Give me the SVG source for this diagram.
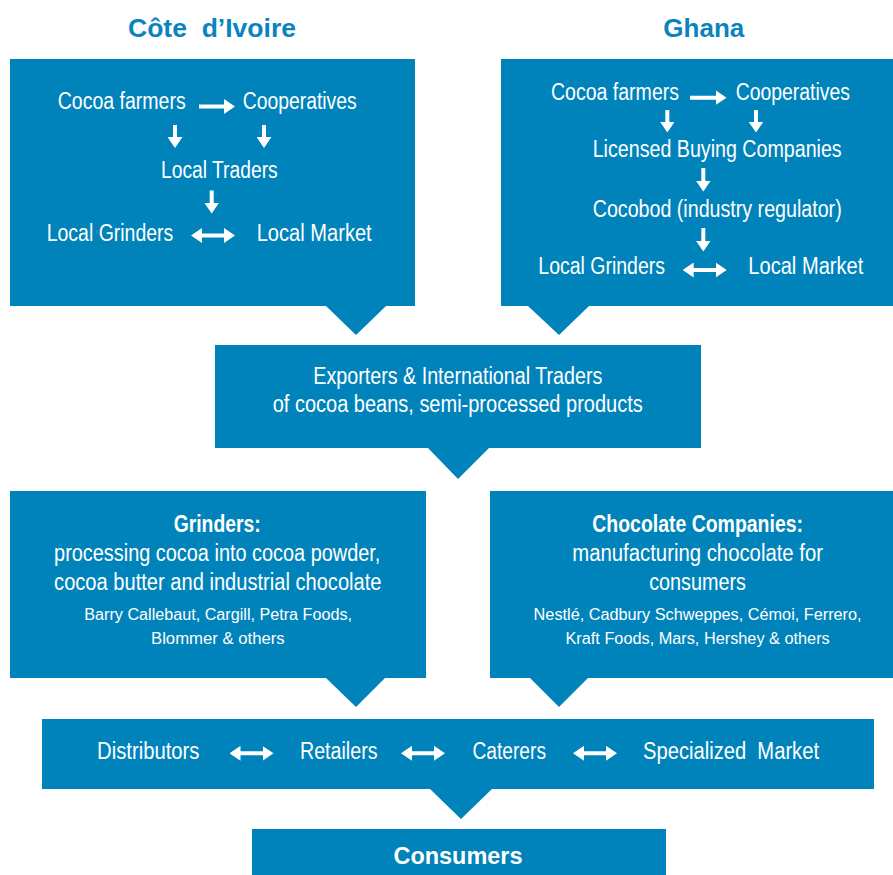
<svg xmlns="http://www.w3.org/2000/svg" width="893" height="875" viewBox="0 0 893 875">
<style>
.box{fill:#0083bb}
.t{font-family:"Liberation Sans",Arial,sans-serif;fill:#fff;font-size:23px}
.s{font-size:16px}
.b{font-weight:bold}
.title{font-family:"Liberation Sans",Arial,sans-serif;fill:#0a84bc;font-size:26px;font-weight:bold}
.a{stroke:#fff;stroke-width:4;fill:none}
</style>
<defs>
<marker id="ah" markerUnits="userSpaceOnUse" markerWidth="11" markerHeight="15" refX="8" refY="7.5" orient="auto-start-reverse" viewBox="0 0 11 15">
<path d="M0,0 L11,7.5 L0,15 Z" fill="#fff"/>
</marker>
</defs>
<rect width="893" height="875" fill="#fff"/>
<text class="title" x="128" y="36.5" textLength="168" lengthAdjust="spacingAndGlyphs" xml:space="preserve">Côte  d’Ivoire</text>
<text class="title" x="663.3" y="36.5" textLength="81" lengthAdjust="spacingAndGlyphs">Ghana</text>

<g id="civ">
<path class="box" d="M10,59 H415 V306 H386 L356,335 L326,306 H10 Z"/>
<text class="t" x="57.7" y="109" textLength="128" lengthAdjust="spacingAndGlyphs">Cocoa farmers</text>
<text class="t" x="242.7" y="109" textLength="114" lengthAdjust="spacingAndGlyphs">Cooperatives</text>
<text class="t" x="161" y="177.5" textLength="116.7" lengthAdjust="spacingAndGlyphs">Local Traders</text>
<text class="t" x="46.7" y="240.5" textLength="126.6" lengthAdjust="spacingAndGlyphs">Local Grinders</text>
<text class="t" x="256.7" y="240.5" textLength="115" lengthAdjust="spacingAndGlyphs">Local Market</text>
</g>

<g id="ghana">
<path class="box" d="M501,59 H893 V306 H589 L559,335 L528,306 H501 Z"/>
<text class="t" x="551" y="100" textLength="128" lengthAdjust="spacingAndGlyphs">Cocoa farmers</text>
<text class="t" x="735.7" y="100" textLength="114.3" lengthAdjust="spacingAndGlyphs">Cooperatives</text>
<text class="t" x="592.7" y="156.5" textLength="249" lengthAdjust="spacingAndGlyphs">Licensed Buying Companies</text>
<text class="t" x="592.7" y="216.5" textLength="249" lengthAdjust="spacingAndGlyphs">Cocobod (industry regulator)</text>
<text class="t" x="538.3" y="274" textLength="126.7" lengthAdjust="spacingAndGlyphs">Local Grinders</text>
<text class="t" x="748.3" y="274" textLength="115" lengthAdjust="spacingAndGlyphs">Local Market</text>
</g>

<g id="exporters">
<path class="box" d="M215,345 H701 V448 H489 L458,479 L428,448 H215 Z"/>
<text class="t" x="313.3" y="384" textLength="289" lengthAdjust="spacingAndGlyphs">Exporters &amp; International Traders</text>
<text class="t" x="272.7" y="411.5" textLength="370" lengthAdjust="spacingAndGlyphs">of cocoa beans, semi-processed products</text>
</g>

<g id="grinders">
<path class="box" d="M10,491 H426 V678 H385 L356,707 L326,678 H10 Z"/>
<text class="t b" x="173.7" y="531.5" textLength="87" lengthAdjust="spacingAndGlyphs">Grinders:</text>
<text class="t" x="54.1" y="561" textLength="326.3" lengthAdjust="spacingAndGlyphs">processing cocoa into cocoa powder,</text>
<text class="t" x="54.1" y="590" textLength="327.4" lengthAdjust="spacingAndGlyphs">cocoa butter and industrial chocolate</text>
<text class="t s" x="84.3" y="620" textLength="267.7" lengthAdjust="spacingAndGlyphs">Barry Callebaut, Cargill, Petra Foods,</text>
<text class="t s" x="151" y="644" textLength="133.7" lengthAdjust="spacingAndGlyphs">Blommer &amp; others</text>
</g>

<g id="chocolate">
<path class="box" d="M490,491 H893 V678 H588 L559,707 L530,678 H490 Z"/>
<text class="t b" x="592.3" y="531.5" textLength="210.7" lengthAdjust="spacingAndGlyphs">Chocolate Companies:</text>
<text class="t" x="572.3" y="561" textLength="250.7" lengthAdjust="spacingAndGlyphs">manufacturing chocolate for</text>
<text class="t" x="649.2" y="590" textLength="96.8" lengthAdjust="spacingAndGlyphs">consumers</text>
<text class="t s" x="533.6" y="620" textLength="328" lengthAdjust="spacingAndGlyphs">Nestlé, Cadbury Schweppes, Cémoi, Ferrero,</text>
<text class="t s" x="565.5" y="644" textLength="264.2" lengthAdjust="spacingAndGlyphs">Kraft Foods, Mars, Hershey &amp; others</text>
</g>

<g id="distribution">
<path class="box" d="M42,719 H874 V789 H492 L461,819 L430,789 H42 Z"/>
<text class="t" x="97" y="759" textLength="102.5" lengthAdjust="spacingAndGlyphs">Distributors</text>
<text class="t" x="300" y="759" textLength="77.5" lengthAdjust="spacingAndGlyphs">Retailers</text>
<text class="t" x="472.5" y="759" textLength="73.5" lengthAdjust="spacingAndGlyphs">Caterers</text>
<text class="t" x="643" y="759" textLength="176" lengthAdjust="spacingAndGlyphs" xml:space="preserve">Specialized  Market</text>
</g>

<g id="consumers">
<rect class="box" x="252" y="829" width="414" height="46"/>
<text class="t b" x="393.5" y="864" font-size="28" textLength="129" lengthAdjust="spacingAndGlyphs">Consumers</text>
</g>

<g id="connectors">
<line class="a" x1="199" y1="106.5" x2="232" y2="106.5" marker-end="url(#ah)"/>
<line class="a" x1="175" y1="125" x2="175" y2="145" marker-end="url(#ah)"/>
<line class="a" x1="264" y1="125" x2="264" y2="145" marker-end="url(#ah)"/>
<line class="a" x1="211.7" y1="190.5" x2="211.7" y2="210.5" marker-end="url(#ah)"/>
<line class="a" x1="194" y1="235.5" x2="232" y2="235.5" marker-start="url(#ah)" marker-end="url(#ah)"/>

<line class="a" x1="690" y1="97.7" x2="723.5" y2="97.7" marker-end="url(#ah)"/>
<line class="a" x1="667.3" y1="110" x2="667.3" y2="129.5" marker-end="url(#ah)"/>
<line class="a" x1="756" y1="110" x2="756" y2="129.5" marker-end="url(#ah)"/>
<line class="a" x1="703.3" y1="168" x2="703.3" y2="188.5" marker-end="url(#ah)"/>
<line class="a" x1="703.3" y1="228" x2="703.3" y2="248.5" marker-end="url(#ah)"/>
<line class="a" x1="685.7" y1="270" x2="723.7" y2="270" marker-start="url(#ah)" marker-end="url(#ah)"/>

<line class="a" x1="232.5" y1="753.3" x2="270.5" y2="753.3" marker-start="url(#ah)" marker-end="url(#ah)"/>
<line class="a" x1="404" y1="753.3" x2="442" y2="753.3" marker-start="url(#ah)" marker-end="url(#ah)"/>
<line class="a" x1="576" y1="753.3" x2="614" y2="753.3" marker-start="url(#ah)" marker-end="url(#ah)"/>
</g>
</svg>
